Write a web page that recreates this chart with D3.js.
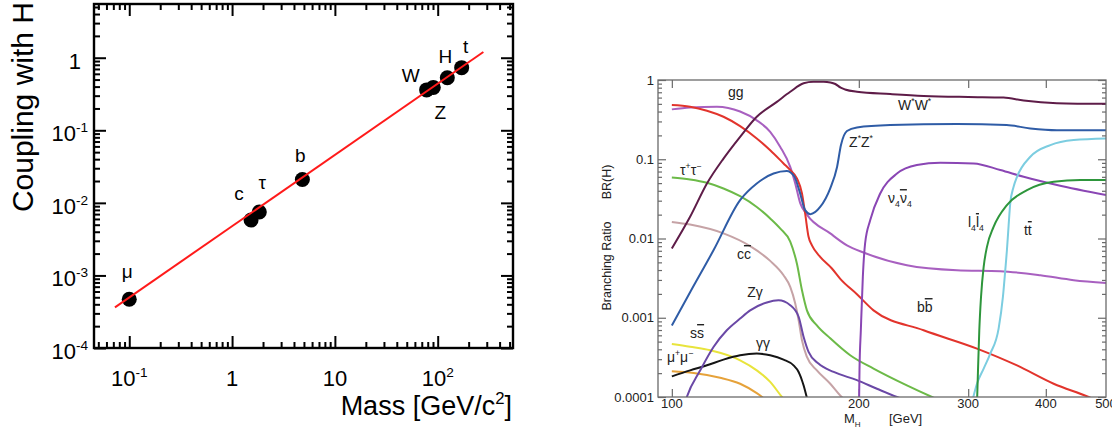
<!DOCTYPE html>
<html>
<head>
<meta charset="utf-8">
<script src="https://cdn.jsdelivr.net/npm/d3@7"></script>
<style>
  body { margin: 0; background: #fff; }
</style>
</head>
<body>
<div id="chart"></div>
<script>
// ---- left panel: Higgs coupling vs mass ----
var particles  = [ 'μ', 'c', 'τ', 'b', 'W', 'Z', 'H', 't' ];
var masses     = [ 0.1, 1.53, 1.84, 4.83, 78, 90.6, 124, 171 ];
var couplings  = [ 4.7e-4, 5.8e-3, 7.5e-3, 0.021, 0.36, 0.39, 0.53, 0.73 ];
var fitMass     = [ 0.0726, 278 ];
var fitCoupling = [ 3.63e-4, 1.2 ];
var leftXTicks = [ 0.1, 1, 10, 100 ];
var leftYTicks = [ 1, 0.1, 0.01, 0.001, 0.0001 ];

// ---- right panel: branching ratios vs M_H (pairs of [mass, BR]) ----
var brWW = [[100,0.0075],[107,0.0188],[113.9,0.0495],[121.1,0.102],[128.8,0.192],[137,0.344],[147.6,0.53],
            [155.1,0.71],[163,0.91],[169,0.95],[175.5,0.95],[180,0.93],[183.3,0.89],[187,0.8],[190,0.76],
            [198.6,0.71],[224.7,0.665],[254.3,0.63],[300,0.61],[342,0.6],[368.5,0.55],[416.9,0.51],[500,0.5]];
var brZZ = [[100,8.0e-4],[107,2.1e-3],[116.7,7.1e-3],[128.8,0.0305],[137,0.0495],[145.8,0.066],[153.1,0.071],
            [157.4,0.061],[160.6,0.039],[163.9,0.0228],[167.1,0.0203],[173.3,0.025],[179.9,0.043],[184.5,0.08],
            [187.2,0.151],[191.4,0.227],[198.6,0.252],[224.7,0.27],[287.7,0.278],[346,0.27],[377.7,0.245],
            [416.9,0.233],[500,0.233]];
var brBB = [[100,0.483],[107,0.46],[113.9,0.41],[121.1,0.344],[128.8,0.262],[137,0.183],[144,0.13],[151.3,0.0886],
            [155.1,0.073],[159,0.0573],[162,0.037],[163.9,0.0207],[166,0.0105],[168.1,0.0082],[173.3,0.00586],
            [181,0.00418],[186.7,0.0031],[198.6,0.00198],[211.2,0.00124],[254.3,6.95e-4],[309.9,4.08e-4],
            [359.5,2.5e-4],[411.8,1.47e-4],[468.9,1e-4],[500,8e-5]];
var brGG = [[100,0.426],[107,0.45],[118.2,0.46],[128.8,0.4],[137,0.31],[144,0.222],[149.4,0.144],[155.1,0.08],
            [158,0.0495],[161,0.0277],[165,0.02],[179.9,0.0116],[191.4,0.0082],[203.5,0.00665],[239,0.0046],
            [287.7,0.00398],[337.9,0.00387],[392,0.00344],[443.6,0.00298],[500,0.00275]];
var brTauTau = [[100,0.059],[107,0.0556],[113.9,0.0505],[121.1,0.0428],[128.8,0.0342],[137,0.025],[144,0.0179],
            [149.4,0.0134],[155.1,0.0091],[159,0.0048],[162,0.00222],[165,0.00124],[171.2,8.0e-4],[179.9,5.5e-4],
            [193.7,3.36e-4],[211.2,2.28e-4],[239,1.4e-4],[262.3,1e-4],[280,8e-5]];
var brCC = [[100,0.0162],[107,0.015],[121.1,0.0116],[133.7,0.008],[144,0.00522],[151.3,0.00344],[155.1,0.00245],
            [158,0.00151],[160,9.3e-4],[162,5.2e-4],[165,3.2e-4],[171.2,2.17e-4],[179.9,1.47e-4],[187.7,1e-4],[195,8e-5]];
var brZGamma = [[105,8.5e-5],[105.7,1e-4],[111.1,2.17e-4],[116.7,4.28e-4],[122.6,6.95e-4],[128.8,9.76e-4],
            [133.7,1.24e-3],[142.2,1.56e-3],[148.5,1.66e-3],[155.1,1.44e-3],[160,1.03e-3],[163,5.7e-4],
            [166,3.7e-4],[172.2,2.64e-4],[182.2,2.07e-4],[198.6,1.63e-4],[213.9,1.27e-4],[230.4,1e-4],[245,8.5e-5]];
var brGamGam = [[100,1.82e-4],[107,2.17e-4],[113.9,2.51e-4],[121.1,2.96e-4],[128.8,3.36e-4],[137,3.53e-4],
            [144,3.36e-4],[151.3,2.96e-4],[157,2.51e-4],[160,2.07e-4],[163,1.4e-4],[165.4,9e-5]];
var brSS = [[100,4.66e-4],[107,4.3e-4],[115.3,3.88e-4],[128.8,2.9e-4],[137,2.17e-4],[144,1.55e-4],[150.4,1e-4],[153,8.5e-5]];
var brMuMu = [[100,2.11e-4],[108.4,2.01e-4],[119.6,1.75e-4],[128.8,1.47e-4],[137,1.12e-4],[142.2,9e-5]];
var brNu4 = [[200,5e-5],[200.5,2.17e-4],[201.5,6.95e-4],[203,3.28e-3],[204.7,8.65e-3],[208.6,0.017],[216.5,0.037],
            [230.4,0.066],[248,0.0844],[270.6,0.0903],[306.1,0.0886],[337.9,0.073],[368.5,0.06],[416.9,0.0472],[500,0.0353]];
var brL4 = [[309.9,8e-5],[311.1,2.17e-4],[312.6,6.95e-4],[314.6,1.83e-3],[317.7,4.39e-3],[321.6,7.85e-3],
            [329.6,0.014],[346.3,0.0264],[373.1,0.0408],[411.8,0.052],[454.7,0.0546],[500,0.0546]];
var brTT = [[304.2,8.5e-5],[309.9,1.47e-4],[317.7,2.28e-4],[325.6,3.53e-4],[335.8,7.3e-4],[341.2,1.83e-3],
            [344.2,4e-3],[346.3,7.1e-3],[348.5,0.0147],[350.6,0.0277],[355,0.045],[359.5,0.06],[377.7,0.1075],
            [406.8,0.151],[443.6,0.175],[500,0.183]];
var rightXTicks = [ 100, 200, 300, 400, 500 ];
var rightYTicks = [ 1, 0.1, 0.01, 0.001, 0.0001 ];

var chart_width  = 1112;
var chart_height = 431;
var font = '"Liberation Sans", Arial, Helvetica, sans-serif';

var svg = d3.select( '#chart' )
    .append( 'svg' )
    .attr( 'width', chart_width )
    .attr( 'height', chart_height )
    .style( 'font-family', font );

function isDecade( d ){
    var l = Math.log10( d );
    return Math.abs( l - Math.round( l ) ) < 1e-6;
}

// draws only tick lines of an axis
function tickAxis( g, axis, vals, size, color, width ){
    g.call( axis.tickValues( vals ).tickSize( size ).tickFormat( '' ) );
    g.select( '.domain' ).remove();
    g.selectAll( '.tick text' ).remove();
    g.selectAll( '.tick line' ).attr( 'stroke', color ).attr( 'stroke-width', width );
}

// text made of pieces: '' normal, 'sup', 'sub', 'bar' (overline)
function richText( sel, parts, size ){
    var off = 0;
    parts.forEach( function( p ){
        var small = p[1] === 'sup' || p[1] === 'sub';
        var shift = p[1] === 'sup' ? -size * 0.42 : ( p[1] === 'sub' ? size * 0.3 : 0 );
        var t = sel.append( 'tspan' )
            .text( p[0] )
            .attr( 'dy', shift - off )
            .attr( 'font-size', small ? size * 0.62 : size );
        if( p[1] === 'bar' ) t.style( 'text-decoration', 'overline' );
        off = shift;
    });
}

function powerLabel( v ){
    if( v === 1 ) return [ [ '1', '' ] ];
    if( v === 10 ) return [ [ '10', '' ] ];
    return [ [ '10', '' ], [ String( Math.round( Math.log10( v ) ) ), 'sup' ] ];
}

// ================= LEFT PANEL =================
var xL = d3.scaleLog().domain( [ 0.0454, 540 ] ).range( [ 94, 513 ] );
var yL = d3.scaleLog().domain( [ 1e-4, 5.5 ] ).range( [ 348, 4 ] );
var left = svg.append( 'g' );

var xMajL = xL.ticks().filter( isDecade ), xMinL = xL.ticks().filter( function( d ){ return !isDecade( d ); } );
var yMajL = yL.ticks().filter( isDecade ), yMinL = yL.ticks().filter( function( d ){ return !isDecade( d ); } );

[ [ d3.axisBottom( xL ), 348 ], [ d3.axisTop( xL ), 4 ] ].forEach( function( a ){
    tickAxis( left.append( 'g' ).attr( 'transform', 'translate(0,' + a[1] + ')' ), a[0], xMajL, -12, '#000', 2 );
    tickAxis( left.append( 'g' ).attr( 'transform', 'translate(0,' + a[1] + ')' ), a[0], xMinL, -6, '#000', 2 );
});
[ [ d3.axisLeft( yL ), 94 ], [ d3.axisRight( yL ), 513 ] ].forEach( function( a ){
    tickAxis( left.append( 'g' ).attr( 'transform', 'translate(' + a[1] + ',0)' ), a[0], yMajL, -12, '#000', 2 );
    tickAxis( left.append( 'g' ).attr( 'transform', 'translate(' + a[1] + ',0)' ), a[0], yMinL, -6, '#000', 2 );
});

left.append( 'rect' )
    .attr( 'x', 94 ).attr( 'y', 4 ).attr( 'width', 419 ).attr( 'height', 344 )
    .attr( 'fill', 'none' ).attr( 'stroke', '#000' ).attr( 'stroke-width', 2.4 );

// tick labels
leftXTicks.forEach( function( v ){
    var t = left.append( 'text' )
        .attr( 'x', xL( v ) ).attr( 'y', 386 )
        .attr( 'text-anchor', 'middle' ).attr( 'font-size', 22 ).attr( 'fill', '#000' );
    richText( t, powerLabel( v ), 22 );
});
leftYTicks.forEach( function( v ){
    var t = left.append( 'text' )
        .attr( 'x', v === 1 ? 81 : 88 ).attr( 'y', yL( v ) + 11 )
        .attr( 'text-anchor', 'end' ).attr( 'font-size', 22 ).attr( 'fill', '#000' );
    richText( t, powerLabel( v ), 22 );
});

// axis titles
var xt = left.append( 'text' )
    .attr( 'x', 512 ).attr( 'y', 415 )
    .attr( 'text-anchor', 'end' ).attr( 'font-size', 27 );
richText( xt, [ [ 'Mass [GeV/c', '' ], [ '2', 'sup' ], [ ']', '' ] ], 27 );

left.append( 'text' )
    .attr( 'transform', 'translate(33,2) rotate(-90)' )
    .attr( 'text-anchor', 'end' ).attr( 'font-size', 30 )
    .text( 'Coupling with H' );

// points, fit line, labels
left.selectAll( 'circle' )
    .data( masses )
    .enter()
    .append( 'circle' )
    .attr( 'cx', function( d ){ return xL( d ); } )
    .attr( 'cy', function( d, i ){ return yL( couplings[i] ); } )
    .attr( 'r', 7.5 )
    .attr( 'fill', '#000' );

left.append( 'path' )
    .datum( d3.zip( fitMass, fitCoupling ) )
    .attr( 'd', d3.line().x( function( d ){ return xL( d[0] ); } ).y( function( d ){ return yL( d[1] ); } ) )
    .attr( 'stroke', '#ff1a1a' ).attr( 'stroke-width', 2 ).attr( 'fill', 'none' );

var labelOffsets = [ [ -2, -21 ], [ -12, -20 ], [ 3, -23 ], [ -2, -17 ], [ -16, -8 ], [ 7, 32 ], [ -2, -15 ], [ 4, -15 ] ];
left.selectAll( 'text.plabel' )
    .data( particles )
    .enter()
    .append( 'text' )
    .attr( 'class', 'plabel' )
    .text( function( d ){ return d; } )
    .attr( 'x', function( d, i ){ return xL( masses[i] ) + labelOffsets[i][0]; } )
    .attr( 'y', function( d, i ){ return yL( couplings[i] ) + labelOffsets[i][1]; } )
    .attr( 'font-size', 19 )
    .attr( 'text-anchor', 'middle' );

// ================= RIGHT PANEL =================
var xR = d3.scaleLog().domain( [ 95, 500 ] ).range( [ 658, 1106 ] );
var yR = d3.scaleLog().domain( [ 1e-4, 1 ] ).range( [ 397, 80 ] );
var right = svg.append( 'g' );
var frameGrey = '#6a6a6a';

var yMajR = yR.ticks().filter( isDecade ), yMinR = yR.ticks().filter( function( d ){ return !isDecade( d ); } );
[ [ d3.axisLeft( yR ), 658 ], [ d3.axisRight( yR ), 1106 ] ].forEach( function( a ){
    tickAxis( right.append( 'g' ).attr( 'transform', 'translate(' + a[1] + ',0)' ), a[0], yMajR, -8, frameGrey, 1.2 );
    tickAxis( right.append( 'g' ).attr( 'transform', 'translate(' + a[1] + ',0)' ), a[0], yMinR, -4, frameGrey, 1.2 );
});
[ [ d3.axisBottom( xR ), 397 ], [ d3.axisTop( xR ), 80 ] ].forEach( function( a ){
    tickAxis( right.append( 'g' ).attr( 'transform', 'translate(0,' + a[1] + ')' ), a[0], rightXTicks.slice( 0, 4 ), -8, frameGrey, 1.2 );
});

right.append( 'defs' ).append( 'clipPath' ).attr( 'id', 'plotR' )
    .append( 'rect' ).attr( 'x', 658 ).attr( 'y', 80 ).attr( 'width', 448 ).attr( 'height', 317 );

var curves = [
    [ brCC, '#c6a3a6' ], [ brMuMu, '#e6a23a' ], [ brSS, '#e8e43c' ], [ brGamGam, '#151515' ],
    [ brZGamma, '#6a48a6' ], [ brTauTau, '#6cba48' ], [ brGG, '#a860c0' ], [ brBB, '#e2342c' ],
    [ brZZ, '#2f5ca6' ], [ brWW, '#5e1c48' ], [ brNu4, '#8a46b4' ], [ brTT, '#7ccde0' ], [ brL4, '#2e963c' ]
];
var line = d3.line()
    .x( function( d ){ return xR( d[0] ); } )
    .y( function( d ){ return yR( d[1] ); } )
    .curve( d3.curveMonotoneX );

right.append( 'g' ).attr( 'clip-path', 'url(#plotR)' )
    .selectAll( 'path' )
    .data( curves )
    .enter()
    .append( 'path' )
    .attr( 'd', function( d ){ return line( d[0] ); } )
    .attr( 'stroke', function( d ){ return d[1]; } )
    .attr( 'stroke-width', 2 )
    .attr( 'fill', 'none' );

right.append( 'rect' )
    .attr( 'x', 658 ).attr( 'y', 80 ).attr( 'width', 448 ).attr( 'height', 317 )
    .attr( 'fill', 'none' ).attr( 'stroke', frameGrey ).attr( 'stroke-width', 1.3 );

rightYTicks.forEach( function( v ){
    right.append( 'text' )
        .attr( 'x', 654 ).attr( 'y', yR( v ) + 4.5 )
        .attr( 'text-anchor', 'end' ).attr( 'font-size', 13 ).attr( 'fill', '#222' )
        .text( String( v ) );
});
// the last label runs off the page edge, as in the original
rightXTicks.forEach( function( v ){
    right.append( 'text' )
        .attr( 'x', xR( v ) ).attr( 'y', 408 )
        .attr( 'text-anchor', 'middle' ).attr( 'font-size', 13 ).attr( 'fill', '#222' )
        .text( String( v ) );
});

var mh = right.append( 'text' ).attr( 'x', 844 ).attr( 'y', 423 ).attr( 'font-size', 13 ).attr( 'fill', '#222' );
richText( mh, [ [ 'M', '' ], [ 'H', 'sub' ] ], 13 );
right.append( 'text' ).attr( 'x', 889 ).attr( 'y', 423 ).attr( 'font-size', 13 ).attr( 'fill', '#222' ).text( '[GeV]' );

right.append( 'text' )
    .attr( 'transform', 'translate(611,266) rotate(-90)' )
    .attr( 'text-anchor', 'middle' ).attr( 'font-size', 12.5 ).attr( 'fill', '#222' )
    .text( 'Branching Ratio' );
right.append( 'text' )
    .attr( 'transform', 'translate(611,182) rotate(-90)' )
    .attr( 'text-anchor', 'middle' ).attr( 'font-size', 12.5 ).attr( 'fill', '#222' )
    .text( 'BR(H)' );

// channel labels, anchored in data coordinates [mass, BR]
var channelLabels = [
    [ [ [ 'gg', '' ] ], 123.1, 0.61 ],
    [ [ [ 'W', '' ], [ '*', 'sup' ], [ 'W', '' ], [ '*', 'sup' ] ], 231.3, 0.418 ],
    [ [ [ 'Z', '' ], [ '*', 'sup' ], [ 'Z', '' ], [ '*', 'sup' ] ], 192.9, 0.1427 ],
    [ [ [ 'τ', '' ], [ '+', 'sup' ], [ 'τ', '' ], [ '−', 'sup' ] ], 103.1, 0.0633 ],
    [ [ [ 'ν', '' ], [ '4', 'sub' ], [ 'ν', 'bar' ], [ '4', 'sub' ] ], 222.9, 0.028 ],
    [ [ [ 'l', '' ], [ '4', 'sub' ], [ 'l', 'bar' ], [ '4', 'sub' ] ], 299.7, 0.01396 ],
    [ [ [ 't', '' ], [ 't', 'bar' ] ], 368.9, 0.01107 ],
    [ [ [ 'c', '' ], [ 'c', 'bar' ] ], 127.3, 0.00551 ],
    [ [ [ 'Zγ', '' ] ], 132.2, 0.00183 ],
    [ [ [ 'b', '' ], [ 'b', 'bar' ] ], 248.1, 0.00118 ],
    [ [ [ 's', '' ], [ 's', 'bar' ] ], 107, 5.55e-4 ],
    [ [ [ 'γγ', '' ] ], 136.6, 4.15e-4 ],
    [ [ [ 'μ', '' ], [ '+', 'sup' ], [ 'μ', '' ], [ '−', 'sup' ] ], 98.2, 2.77e-4 ]
];
channelLabels.forEach( function( c ){
    var t = right.append( 'text' )
        .attr( 'x', xR( c[1] ) ).attr( 'y', yR( c[2] ) )
        .attr( 'font-size', 14 ).attr( 'fill', '#222' );
    richText( t, c[0], 14 );
});
</script>
</body>
</html>
